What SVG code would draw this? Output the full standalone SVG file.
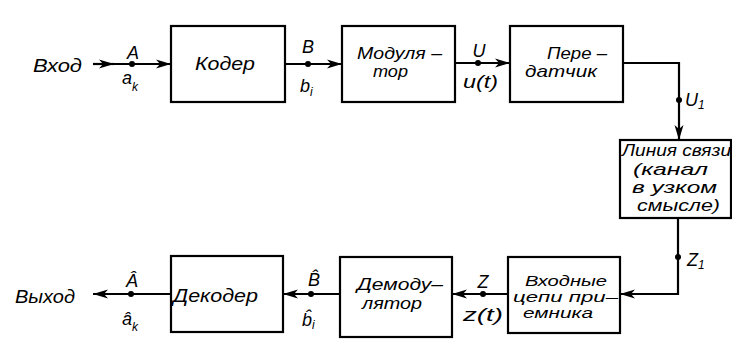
<svg xmlns="http://www.w3.org/2000/svg" width="732" height="348" viewBox="0 0 732 348">
<defs>
<style>
.box{fill:#fff;stroke:#000;stroke-width:2.2}
.ln{fill:none;stroke:#000;stroke-width:2.2}
text{font-family:"Liberation Sans","DejaVu Sans",sans-serif;font-style:italic;font-size:18px;fill:#000}
.m{font-size:17px}
.s{font-size:14px}
.sub{font-size:12px}
.dot{fill:#000}
</style>
<marker id="ar" markerUnits="userSpaceOnUse" markerWidth="16" markerHeight="10" viewBox="0 0 16 10" refX="15" refY="5" orient="auto">
<path d="M0,0.5 L15,5 L0,9.5 L4,5 Z" fill="#000"/>
</marker>
</defs>
<rect width="732" height="348" fill="#fff"/>
<g id="connectors">
<path class="ln" d="M93,64 H114" marker-end="url(#ar)"/>
<path class="ln" d="M112,64 H171" marker-end="url(#ar)"/>
<path class="ln" d="M285,64 H342" marker-end="url(#ar)"/>
<path class="ln" d="M455,63 H510" marker-end="url(#ar)"/>
<path class="ln" d="M623,63 H679 V140" marker-end="url(#ar)"/>
<path class="ln" d="M678,218 V294 H620" marker-end="url(#ar)"/>
<path class="ln" d="M508,294 H452" marker-end="url(#ar)"/>
<path class="ln" d="M340,294 H283" marker-end="url(#ar)"/>
<path class="ln" d="M171,294 H93" marker-end="url(#ar)"/>
<circle class="dot" cx="132" cy="64" r="3"/>
<circle class="dot" cx="308" cy="64" r="3"/>
<circle class="dot" cx="478" cy="63" r="3"/>
<circle class="dot" cx="679" cy="100" r="3"/>
<circle class="dot" cx="678" cy="257" r="3"/>
<circle class="dot" cx="483" cy="294" r="3"/>
<circle class="dot" cx="311" cy="294" r="3"/>
<circle class="dot" cx="131" cy="294" r="3"/>
</g>
<g id="labels">
<text x="33" y="72" textLength="49" lengthAdjust="spacingAndGlyphs">Вход</text>
<text x="133" y="59" text-anchor="middle">A</text>
<text x="122" y="84">a<tspan class="sub" dy="7">k</tspan></text>
<text x="308" y="53" text-anchor="middle">B</text>
<text x="300" y="92">b<tspan class="sub" dy="4">i</tspan></text>
<text x="479" y="57" text-anchor="middle">U</text>
<text x="463" y="88" textLength="35" lengthAdjust="spacingAndGlyphs">u(t)</text>
<text x="685" y="106">U<tspan class="sub" dy="3">1</tspan></text>
<text x="687" y="266">Z<tspan class="sub" dy="3">1</tspan></text>
<text x="483" y="288" text-anchor="middle">Z</text>
<text x="463" y="321" textLength="40" lengthAdjust="spacingAndGlyphs">z(t)</text>
<text x="314" y="286" text-anchor="middle">B̂</text>
<text x="302" y="326">b̂<tspan class="sub" dy="3">i</tspan></text>
<text x="132" y="287" text-anchor="middle">Â</text>
<text x="122" y="325">â<tspan class="sub" dy="6">k</tspan></text>
<text x="15" y="303" textLength="60" lengthAdjust="spacingAndGlyphs">Выход</text>
</g>
<g id="coder">
<rect class="box" x="171" y="26" width="114" height="76"/>
<text x="195" y="70" textLength="60" lengthAdjust="spacingAndGlyphs">Кодер</text>
</g>
<g id="modulator">
<rect class="box" x="342" y="26" width="113" height="76"/>
<text class="m" x="357" y="59" textLength="85" lengthAdjust="spacingAndGlyphs">Модуля –</text>
<text class="m" x="373" y="77" textLength="35" lengthAdjust="spacingAndGlyphs">тор</text>
</g>
<g id="transmitter">
<rect class="box" x="510" y="26" width="113" height="76"/>
<text class="m" x="547" y="59" textLength="60" lengthAdjust="spacingAndGlyphs">Пере –</text>
<text class="m" x="525" y="77" textLength="72" lengthAdjust="spacingAndGlyphs">датчик</text>
</g>
<g id="channel">
<rect class="box" x="620" y="140" width="111" height="78"/>
<text class="m" x="622" y="156" textLength="109" lengthAdjust="spacingAndGlyphs">Линия связи</text>
<text class="m" x="633" y="175" textLength="75" lengthAdjust="spacingAndGlyphs">(канал</text>
<text class="m" x="632" y="193" textLength="85" lengthAdjust="spacingAndGlyphs">в узком</text>
<text class="m" x="637" y="211" textLength="83" lengthAdjust="spacingAndGlyphs">смысле)</text>
</g>
<g id="receiver-input">
<rect class="box" x="508" y="257" width="112" height="76"/>
<text class="s" x="525" y="286" textLength="82" lengthAdjust="spacingAndGlyphs">Входные</text>
<text class="s" x="513" y="302" textLength="105" lengthAdjust="spacingAndGlyphs">цепи при–</text>
<text class="s" x="523" y="318" textLength="70" lengthAdjust="spacingAndGlyphs">емника</text>
</g>
<g id="demodulator">
<rect class="box" x="340" y="257" width="112" height="80"/>
<text class="m" x="357" y="290" textLength="86" lengthAdjust="spacingAndGlyphs">Демоду–</text>
<text class="m" x="362" y="309" textLength="60" lengthAdjust="spacingAndGlyphs">лятор</text>
</g>
<g id="decoder">
<rect class="box" x="171" y="256" width="112" height="76"/>
<text x="173" y="302" textLength="85" lengthAdjust="spacingAndGlyphs">Декодер</text>
</g>
</svg>
